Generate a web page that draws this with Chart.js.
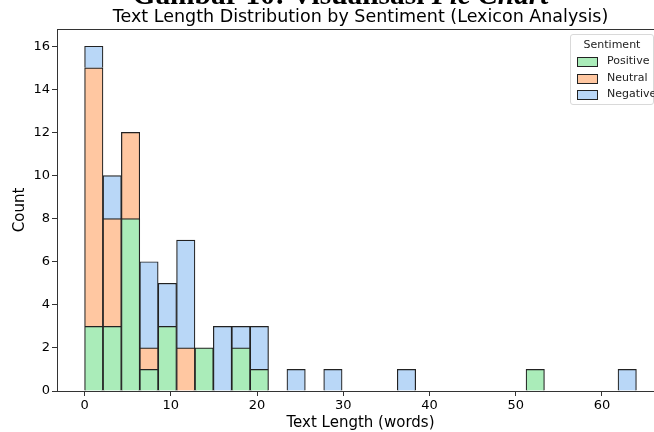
<!DOCTYPE html>
<html>
<head>
<meta charset="utf-8">
<script src="https://cdn.jsdelivr.net/npm/chart.js@4"></script>
<style>
  html, body { margin: 0; padding: 0; background: #fff; overflow: hidden; }
  #wrap { position: relative; width: 654px; height: 432px; overflow: hidden; }
  #chart { position: absolute; left: 0; top: 0; }
  #doc-title {
    position: absolute; left: 0; width: 681px; top: -20px; text-align: center;
    font-family: "Liberation Serif", serif; font-weight: bold; font-size: 29.4px; line-height: 29.4px;
    color: #000; white-space: nowrap;
  }
  #legend {
    position: absolute; left: 570px; top: 34px; width: 82px; height: 69px;
    border: 1px solid #d9d9d9; border-radius: 3px; background: rgba(255,255,255,0.8);
    font-family: "DejaVu Sans", sans-serif; font-size: 11px; color: #222;
  }
  #legend .lt { position: absolute; left: 0; width: 82px; top: 3px; text-align: center; }
  #legend .row { position: absolute; left: 6px; height: 14px; white-space: nowrap; }
  #legend .sw { position: absolute; left: 0; top: 2px; width: 19px; height: 8px; border: 1px solid #222; }
  #legend .lab { position: absolute; left: 30px; top: -1px; }
</style>
</head>
<body>
<div id="wrap">
  <canvas id="chart" width="721" height="432"></canvas>
  <div id="doc-title">Gambar 10: Visualisasi <i>Pie Chart</i></div>
  <div id="legend">
    <div class="lt">Sentiment</div>
  </div>
</div>
<script>
// histogram bins: 30 equal bins from 0 to 64 words
const binMin = 0;
const binMax = 64;
const binCount = 30;

// counts per bin
const positiveCounts = [3, 3, 8, 1, 3, 0, 2, 0, 2, 1, 0, 0, 0, 0, 0, 0, 0, 0, 0, 0, 0, 0, 0, 0, 1, 0, 0, 0, 0, 0];
const neutralCounts  = [12, 5, 4, 1, 0, 2, 0, 0, 0, 0, 0, 0, 0, 0, 0, 0, 0, 0, 0, 0, 0, 0, 0, 0, 0, 0, 0, 0, 0, 0];
const negativeCounts = [1, 2, 0, 4, 2, 5, 0, 3, 1, 2, 0, 1, 0, 1, 0, 0, 0, 1, 0, 0, 0, 0, 0, 0, 0, 0, 0, 0, 0, 1];

const seriesNames = ["Positive", "Neutral", "Negative"];
const seriesColors = ["#aaecb9", "#ffc7a1", "#b9d7f7"];

const xTicks = [0, 10, 20, 30, 40, 50, 60];
const yTicks = [0, 2, 4, 6, 8, 10, 12, 14, 16];

const binWidth = (binMax - binMin) / binCount;

function toPoints(counts) {
  return counts.map((c, i) => ({ x: binMin + binWidth * (i + 0.5), y: c === 0 ? null : c }));
}

// legend
const legend = document.getElementById("legend");
seriesNames.forEach(function(name, i) {
  const row = document.createElement("div");
  row.className = "row";
  row.style.top = (20 + i * 16.5) + "px";
  row.innerHTML = '<span class="sw" style="background:' + seriesColors[i] + '"></span><span class="lab">' + name + '</span>';
  legend.appendChild(row);
});

// frame around the plot area
const frame = {
  id: "frame",
  afterDraw(chart) {
    const a = chart.chartArea;
    const ctx = chart.ctx;
    ctx.save();
    ctx.strokeStyle = "#333";
    ctx.lineWidth = 1;
    ctx.strokeRect(Math.round(a.left) + 0.5, Math.round(a.top) + 0.5, Math.round(a.right - a.left), Math.round(a.bottom - a.top));
    ctx.restore();
  }
};

const tickFont = { family: "DejaVu Sans", size: 13 };
const labelFont = { family: "DejaVu Sans", size: 15 };

new Chart(document.getElementById("chart"), {
  type: "bar",
  data: {
    datasets: [positiveCounts, neutralCounts, negativeCounts].map((counts, i) => ({
      label: seriesNames[i],
      data: toPoints(counts),
      backgroundColor: seriesColors[i],
      borderColor: "#222",
      borderWidth: 1.2,
      barPercentage: 1,
      categoryPercentage: 1
    }))
  },
  options: {
    responsive: false,
    animation: false,
    layout: { padding: { top: 7, right: 57, left: 0, bottom: 0 } },
    plugins: {
      legend: { display: false },
      tooltip: { enabled: false },
      title: {
        display: true,
        fullSize: false,
        text: "Text Length Distribution by Sentiment (Lexicon Analysis)",
        color: "#000",
        font: { family: "DejaVu Sans", size: 17.5, weight: "normal" },
        padding: { top: 0, bottom: 1 }
      }
    },
    scales: {
      x: {
        type: "linear",
        stacked: true,
        offset: false,
        min: -3.2,
        max: 67.2,
        afterBuildTicks: s => { s.ticks = xTicks.map(v => ({ value: v })); },
        ticks: { color: "#000", font: tickFont, padding: 2, maxRotation: 0 },
        grid: { display: true, offset: false, drawOnChartArea: false, tickLength: 5, color: "#333" },
        border: { display: true, color: "#333" },
        title: { display: true, text: "Text Length (words)", color: "#000", font: labelFont, padding: { top: 4, bottom: 0 } },
        afterFit: s => { s.height = 41; }
      },
      y: {
        stacked: true,
        min: 0,
        max: 16.8,
        afterBuildTicks: s => { s.ticks = yTicks.map(v => ({ value: v })); },
        ticks: { color: "#000", font: tickFont, padding: 2 },
        grid: { display: true, drawOnChartArea: false, tickLength: 5, color: "#333" },
        border: { display: true, color: "#333" },
        title: { display: true, text: "Count", color: "#000", font: labelFont, padding: { top: 11, bottom: 0 } },
        afterFit: s => { s.width = 57; }
      }
    }
  },
  plugins: [frame]
});
</script>
</body>
</html>
